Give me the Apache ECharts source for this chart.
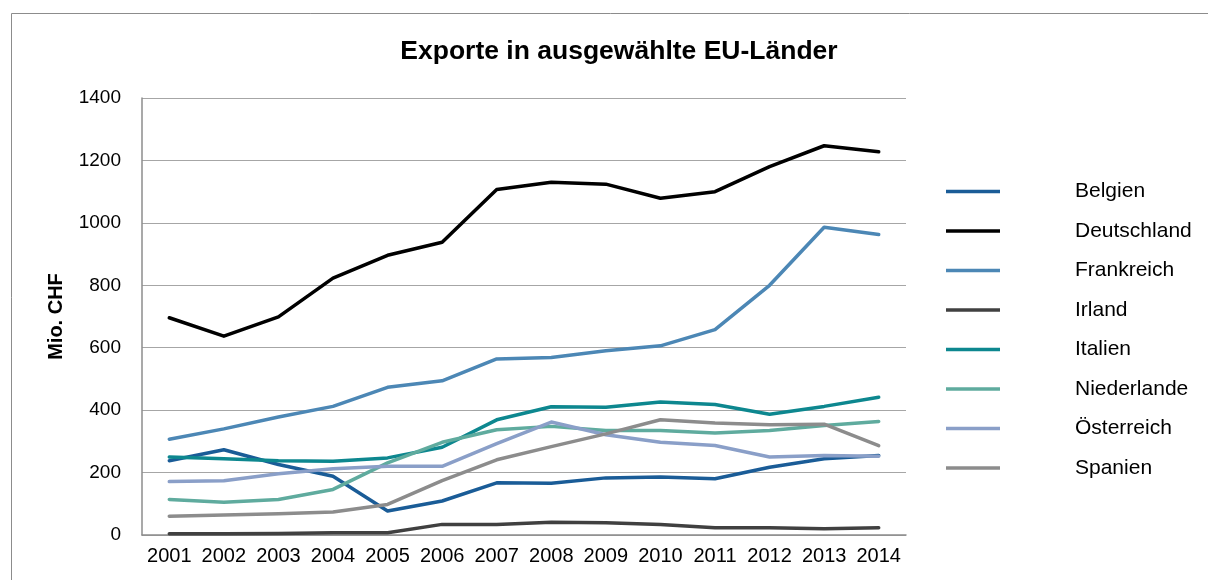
<!DOCTYPE html>
<html>
<head>
<meta charset="utf-8">
<script src="https://cdn.jsdelivr.net/npm/echarts@6/dist/echarts.min.js"></script>
<style>
html,body{margin:0;padding:0;background:#fff;}
#chart{width:1208px;height:580px;}
</style>
</head>
<body>
<div id="chart"></div>
<script>
const years = ['2001','2002','2003','2004','2005','2006','2007','2008','2009','2010','2011','2012','2013','2014'];
const belgien     = [238, 273, 226, 188, 77, 109, 167, 166, 183, 186, 180, 217, 244, 255];
const deutschland = [696, 637, 699, 823, 896, 938, 1107, 1130, 1124, 1079, 1100, 1180, 1247, 1228];
const frankreich  = [307, 340, 378, 412, 473, 494, 564, 569, 590, 606, 658, 800, 986, 963];
const irland      = [4, 4, 5, 7, 7, 34, 34, 41, 39, 34, 23, 23, 20, 23];
const italien     = [250, 244, 238, 236, 247, 281, 369, 411, 409, 426, 418, 387, 412, 441];
const niederlande = [114, 105, 114, 146, 231, 297, 337, 348, 335, 335, 327, 335, 351, 364];
const oesterreich = [171, 174, 196, 212, 220, 220, 293, 362, 321, 297, 287, 250, 255, 252];
const spanien     = [60, 64, 68, 74, 98, 174, 241, 283, 324, 369, 359, 353, 355, 286];
const yTicks = [0, 200, 400, 600, 800, 1000, 1200, 1400];

const seriesDefs = [
  ['Belgien', belgien, '#1a5c97'],
  ['Deutschland', deutschland, '#000000'],
  ['Frankreich', frankreich, '#4c87b5'],
  ['Irland', irland, '#404040'],
  ['Italien', italien, '#0d878f'],
  ['Niederlande', niederlande, '#5fab9e'],
  ['Österreich', oesterreich, '#8a9fc8'],
  ['Spanien', spanien, '#8c8c8c']
];

const font = "'Liberation Sans', Arial, sans-serif";
const chart = echarts.init(document.getElementById('chart'), null, {renderer: 'canvas'});
chart.setOption({
  animation: false,
  backgroundColor: '#fff',
  textStyle: {fontFamily: font},
  graphic: [{
    type: 'rect', silent: true, z: -1,
    shape: {x: 11.5, y: 13.5, width: 1400, height: 800},
    style: {fill: 'none', stroke: '#8c8c8c', lineWidth: 1}
  }],
  title: {
    text: 'Exporte in ausgewählte EU-Länder',
    left: 614, textAlign: 'center', top: 33,
    textStyle: {fontFamily: font, fontSize: 26.5, fontWeight: 'bold', color: '#000'}
  },
  legend: {
    orient: 'vertical',
    left: 946, top: 181, padding: 0,
    icon: 'rect',
    itemWidth: 54, itemHeight: 3.5, itemGap: 18.5,
    textStyle: {fontFamily: font, fontSize: 21, color: '#000', padding: [0, 0, 0, 70]},
    data: seriesDefs.map(d => d[0])
  },
  grid: {left: 142, top: 98, right: 302, bottom: 45, containLabel: false},
  xAxis: {
    type: 'category',
    data: years,
    boundaryGap: true,
    axisLine: {lineStyle: {color: '#8c8c8c', width: 1.5}},
    axisTick: {show: false},
    axisLabel: {fontFamily: font, fontSize: 20, color: '#000', margin: 11, interval: 0, hideOverlap: false}
  },
  yAxis: {
    type: 'value',
    min: yTicks[0], max: yTicks[yTicks.length - 1], interval: 200,
    name: 'Mio. CHF',
    nameLocation: 'middle', nameRotate: 90, nameGap: 76,
    nameTextStyle: {fontFamily: font, fontSize: 20, fontWeight: 'bold', color: '#000'},
    axisLine: {show: true, lineStyle: {color: '#8c8c8c', width: 1.5}},
    axisTick: {show: false},
    splitLine: {lineStyle: {color: '#a6a6a6', width: 1}},
    axisLabel: {fontFamily: font, fontSize: 19, color: '#000', margin: 21, formatter: v => String(v)}
  },
  series: seriesDefs.map(d => ({
    name: d[0], type: 'line', data: d[1],
    symbol: 'none', smooth: false,
    color: d[2],
    lineStyle: {color: d[2], width: 3.5, cap: 'round', join: 'round'}
  }))
});
</script>
</body>
</html>
